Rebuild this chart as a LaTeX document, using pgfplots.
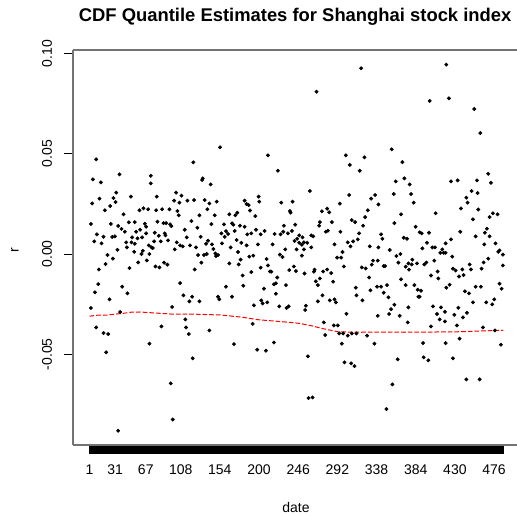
\documentclass[border=0pt]{standalone}
\usepackage{pgfplots}
\pgfplotsset{compat=1.18}
\usepackage{pgfplotstable}
\usepackage{fontspec}
\setmainfont{Liberation Sans}

\pgfplotstableread{
x y
8.8 0.0472
36.2 0.0397
72.9 0.0390
72.9 0.0352
4.9 0.0372
14.3 0.0357
32.3 0.0306
4.1 0.0252
12.7 0.0276
29.1 0.0279
31.5 0.0259
49.5 0.0286
25.2 0.0239
19.0 0.0218
59.6 0.0218
64.3 0.0228
69.8 0.0223
40.9 0.0198
2.6 0.0150
26.0 0.0150
34.6 0.0140
47.1 0.0158
54.1 0.0159
38.5 0.0125
42.4 0.0111
65.9 0.0151
67.4 0.0136
60.4 0.0121
55.7 0.0111
9.6 0.0098
17.4 0.0086
27.6 0.0085
30.7 0.0088
6.5 0.0063
15.1 0.0053
51.0 0.0083
57.3 0.0078
62.7 0.0083
67.4 0.0103
44.0 0.0058
50.2 0.0058
54.1 0.0051
44.8 0.0033
70.6 0.0043
73.7 0.0033
33.8 0.0021
53.4 0.0011
63.5 0.0016
22.1 -0.0005
62.0 0.0000
71.3 0.0000
28.4 -0.0023
19.8 -0.0050
58.1 -0.0042
68.2 -0.0032
11.9 -0.0077
47.9 -0.0070
11.2 -0.0150
39.3 -0.0163
7.3 -0.0191
45.5 -0.0196
24.4 -0.0226
2.6 -0.0269
36.9 -0.0289
8.8 -0.0366
17.4 -0.0394
22.9 -0.0399
20.5 -0.0490
71.3 -0.0447
34.6 -0.0881
154.2 0.0532
122.9 0.0457
133.9 0.0377
133.1 0.0369
143.2 0.0347
79.9 0.0286
102.6 0.0306
108.9 0.0291
100.3 0.0266
106.5 0.0256
115.9 0.0266
123.7 0.0269
136.2 0.0269
141.7 0.0252
150.3 0.0261
79.2 0.0218
86.2 0.0223
94.8 0.0223
104.2 0.0214
105.7 0.0193
139.3 0.0223
148.0 0.0193
130.0 0.0193
80.7 0.0161
87.8 0.0154
90.9 0.0154
95.6 0.0148
97.1 0.0139
120.6 0.0164
144.0 0.0149
158.9 0.0148
112.8 0.0121
127.6 0.0131
77.6 0.0106
82.3 0.0091
89.3 0.0103
90.1 0.0093
155.8 0.0103
161.2 0.0114
159.7 0.0086
115.1 0.0083
131.5 0.0086
76.8 0.0063
84.6 0.0063
93.2 0.0068
103.4 0.0058
107.3 0.0043
110.4 0.0038
119.0 0.0043
126.0 0.0033
137.8 0.0051
140.1 0.0066
144.8 0.0048
75.2 0.0030
101.0 0.0023
146.4 0.0025
156.5 0.0053
128.4 -0.0005
135.4 -0.0005
138.6 0.0000
149.5 -0.0010
151.8 -0.0005
148.7 0.0003
132.3 -0.0043
78.4 -0.0062
83.1 -0.0067
88.5 -0.0043
92.4 -0.0053
124.5 -0.0077
107.3 -0.0145
161.2 -0.0163
111.2 -0.0206
121.4 -0.0213
151.8 -0.0213
153.4 -0.0226
118.2 -0.0236
130.0 -0.0236
97.9 -0.0264
113.5 -0.0326
85.4 -0.0361
114.3 -0.0366
117.5 -0.0399
141.7 -0.0381
122.1 -0.0520
96.3 -0.0645
98.7 -0.0825
210.5 0.0492
222.2 0.0415
199.5 0.0286
183.1 0.0266
185.4 0.0249
187.8 0.0244
200.3 0.0261
226.1 0.0256
239.4 0.0261
189.4 0.0217
236.3 0.0214
237.0 0.0206
165.1 0.0198
174.5 0.0206
172.2 0.0193
195.6 0.0189
168.3 0.0153
169.8 0.0146
177.6 0.0141
183.1 0.0136
229.2 0.0141
242.5 0.0146
163.6 0.0100
171.4 0.0115
186.2 0.0098
190.9 0.0103
196.4 0.0121
201.9 0.0098
206.5 0.0115
218.3 0.0100
225.3 0.0098
228.4 0.0111
233.9 0.0103
238.6 0.0115
247.2 0.0093
244.8 0.0076
166.7 0.0033
173.7 0.0070
179.2 0.0056
185.4 0.0043
198.7 0.0048
215.9 0.0048
241.7 0.0065
247.2 0.0056
250.3 0.0046
251.1 0.0083
230.8 0.0023
244.1 0.0023
224.5 -0.0003
227.6 -0.0015
175.3 0.0010
193.3 -0.0008
188.6 -0.0013
178.4 -0.0028
176.1 -0.0052
165.1 -0.0047
208.9 -0.0025
201.9 -0.0068
210.5 -0.0057
212.8 -0.0087
214.4 -0.0088
235.5 -0.0080
240.9 -0.0062
243.3 -0.0085
190.9 -0.0090
180.8 -0.0107
221.4 -0.0117
217.5 -0.0151
219.8 -0.0146
231.6 -0.0155
181.5 -0.0158
205.8 -0.0173
168.3 -0.0213
219.8 -0.0198
202.6 -0.0231
204.2 -0.0246
209.7 -0.0241
194.0 -0.0256
223.7 -0.0261
232.3 -0.0269
234.7 -0.0261
192.5 -0.0348
170.6 -0.0449
197.9 -0.0477
208.1 -0.0482
217.5 -0.0441
319.9 0.0926
267.5 0.0809
301.9 0.0492
323.8 0.0482
306.6 0.0444
318.3 0.0415
259.7 0.0314
305.8 0.0294
331.6 0.0276
336.3 0.0294
340.2 0.0247
294.9 0.0251
273.8 0.0213
282.4 0.0208
280.0 0.0226
327.7 0.0218
324.6 0.0184
271.4 0.0159
285.5 0.0159
270.6 0.0141
308.9 0.0169
312.8 0.0159
322.2 0.0141
278.4 0.0111
280.8 0.0116
295.6 0.0111
317.5 0.0103
261.3 0.0093
263.6 0.0088
310.5 0.0063
316.0 0.0073
304.2 0.0058
307.4 0.0038
288.6 0.0048
330.0 0.0038
340.2 0.0033
252.7 0.0058
256.6 0.0056
261.3 0.0033
252.7 0.0023
250.3 -0.0008
298.0 0.0010
291.7 -0.0018
296.4 -0.0018
333.9 -0.0033
339.4 -0.0033
332.4 -0.0053
299.6 -0.0062
265.2 -0.0078
264.4 -0.0088
280.0 -0.0077
275.3 -0.0087
284.7 -0.0095
320.7 -0.0067
325.3 -0.0072
253.4 -0.0097
271.4 -0.0122
266.7 -0.0136
269.1 -0.0155
287.0 -0.0138
329.3 -0.0117
313.6 -0.0168
338.6 -0.0163
330.8 -0.0181
314.4 -0.0206
274.5 -0.0206
269.1 -0.0236
283.1 -0.0231
288.6 -0.0226
290.2 -0.0241
321.4 -0.0231
255.0 -0.0258
254.2 -0.0279
302.7 -0.0298
339.4 -0.0308
276.1 -0.0341
287.8 -0.0356
292.5 -0.0356
294.1 -0.0396
298.8 -0.0396
277.7 -0.0404
304.2 -0.0407
308.9 -0.0396
314.4 -0.0396
326.9 -0.0407
335.5 -0.0447
297.2 -0.0447
257.4 -0.0510
300.3 -0.0540
308.2 -0.0545
312.1 -0.0559
258.1 -0.0718
262.8 -0.0715
419.9 0.0944
400.4 0.0763
355.8 0.0522
368.3 0.0458
370.7 0.0377
360.5 0.0362
376.9 0.0347
358.2 0.0299
378.5 0.0299
381.6 0.0256
366.8 0.0198
407.4 0.0203
358.9 0.0154
383.9 0.0136
343.3 0.0098
344.9 0.0076
369.9 0.0081
373.8 0.0076
388.6 0.0108
391.0 0.0103
399.6 0.0106
397.2 0.0056
353.5 0.0020
391.8 0.0028
403.5 0.0033
406.6 0.0033
412.9 0.0006
415.2 0.0023
416.8 0.0006
361.3 -0.0010
366.0 0.0000
419.1 0.0006
346.4 -0.0060
348.0 -0.0060
363.6 -0.0043
380.0 -0.0028
375.4 -0.0047
379.3 -0.0052
385.5 -0.0047
372.2 -0.0063
376.1 -0.0078
394.1 -0.0052
396.5 -0.0042
405.8 -0.0033
401.9 -0.0107
409.7 -0.0087
410.5 -0.0122
366.8 -0.0126
372.2 -0.0155
382.4 -0.0155
386.3 -0.0178
390.2 -0.0183
343.3 -0.0163
350.3 -0.0155
346.4 -0.0193
351.9 -0.0216
387.1 -0.0213
388.6 -0.0213
358.9 -0.0253
375.4 -0.0266
355.0 -0.0275
352.7 -0.0299
365.2 -0.0308
404.3 -0.0261
413.7 -0.0266
419.9 -0.0168
409.0 -0.0299
412.1 -0.0326
418.3 -0.0336
374.6 -0.0341
401.9 -0.0361
392.6 -0.0444
419.1 -0.0444
362.8 -0.0525
393.3 -0.0515
398.8 -0.0530
356.6 -0.0650
349.6 -0.0773
423.0 0.0776
452.7 0.0723
459.8 0.0603
425.4 0.0362
433.2 0.0367
455.9 0.0367
469.1 0.0400
472.3 0.0355
449.6 0.0314
456.6 0.0304
443.4 0.0281
444.9 0.0256
437.1 0.0227
457.4 0.0222
451.2 0.0173
470.7 0.0184
474.6 0.0203
480.1 0.0198
436.3 0.0111
467.6 0.0126
465.2 0.0106
454.3 0.0088
470.7 0.0088
425.4 0.0073
477.7 0.0053
464.5 0.0048
419.1 0.0053
480.9 0.0011
482.4 0.0018
486.3 -0.0003
426.9 -0.0013
447.3 -0.0052
469.1 -0.0023
463.7 -0.0042
427.7 -0.0073
430.8 -0.0082
438.7 -0.0077
448.8 -0.0077
461.3 -0.0073
440.2 -0.0105
434.8 -0.0112
486.3 -0.0057
482.4 -0.0148
484.8 -0.0173
423.8 -0.0153
441.8 -0.0186
446.5 -0.0196
454.3 -0.0163
460.5 -0.0163
451.2 -0.0241
466.8 -0.0241
476.2 -0.0226
473.8 -0.0251
434.0 -0.0268
429.3 -0.0303
439.4 -0.0316
444.1 -0.0293
418.3 -0.0288
432.4 -0.0356
462.9 -0.0366
477.0 -0.0381
435.5 -0.0422
484.0 -0.0452
427.7 -0.0520
443.4 -0.0625
459.0 -0.0625
}\pts

\pgfplotstableread{
x y
1 -0.0310
10 -0.0305
20 -0.0305
30 -0.0300
40 -0.0296
50 -0.0290
60 -0.0289
74 -0.0293
96 -0.0299
125 -0.0300
155 -0.0304
180 -0.0315
200 -0.0328
237 -0.0341
248 -0.0346
262 -0.0358
275 -0.0372
293 -0.0388
320 -0.0390
342 -0.0389
370 -0.0390
400 -0.0389
430 -0.0388
459 -0.0384
487 -0.0380
}\qline

\begin{document}
\begin{tikzpicture}
\begin{axis}[
  at={(0pt,0pt)}, anchor=south west,
  scale only axis, width=335.25pt, height=296.25pt,
  xmin=-18.44, xmax=506.44, ymin=-0.0952, ymax=0.1017,
  axis x line*=bottom, axis y line*=left,
  axis line style={black!55, line width=1pt},
  tick align=outside,
  xtick={1,...,487}, xticklabels={},
  major tick length=6.75pt,
  every tick/.style={black, line width=0.75pt},
  extra x ticks={1,31,67,108,154,200,246,292,338,384,430,476},
  extra x tick labels={1,31,67,108,154,200,246,292,338,384,430,476},
  extra x tick style={major tick length=0pt, xticklabel style={anchor=center, yshift=-18.75pt}},
  ytick={-0.05,0,0.05,0.1},
  yticklabels={-0.05,0.00,0.05,0.10},
  yticklabel style={xshift=-12.75pt, rotate=90, anchor=center},
  tick label style={font=\fontsize{10.5}{12}\selectfont},
  every axis title shift=0pt,
  title={\bfseries CDF Quantile Estimates for Shanghai stock index},
  title style={at={(axis description cs:0.497,1.084)}, anchor=center, font=\fontsize{13.8}{16}\selectfont},
  xlabel={date},
  xlabel style={at={(axis description cs:0.499,-0.159)}, anchor=center, font=\fontsize{10.5}{12}\selectfont},
  ylabel={r},
  ylabel style={at={(axis description cs:-0.13,0.494)}, anchor=center, font=\fontsize{10.5}{12}\selectfont},
  clip=false,
]
\draw[black!55, line width=1pt] (rel axis cs:0,1) -- (rel axis cs:1,1);
\addplot[only marks, mark=*, mark size=1.25pt, mark options={draw=black, fill=black}] table[x=x,y=y] {\pts};
\addplot[red, line width=0.75pt, dash pattern=on 3.5pt off 1.5pt] table[x=x,y=y] {\qline};
\end{axis}
\pgfresetboundingbox
\path[use as bounding box] (-54.75pt,-53.25pt) rectangle (333pt,333.75pt);
\end{tikzpicture}
\end{document}
